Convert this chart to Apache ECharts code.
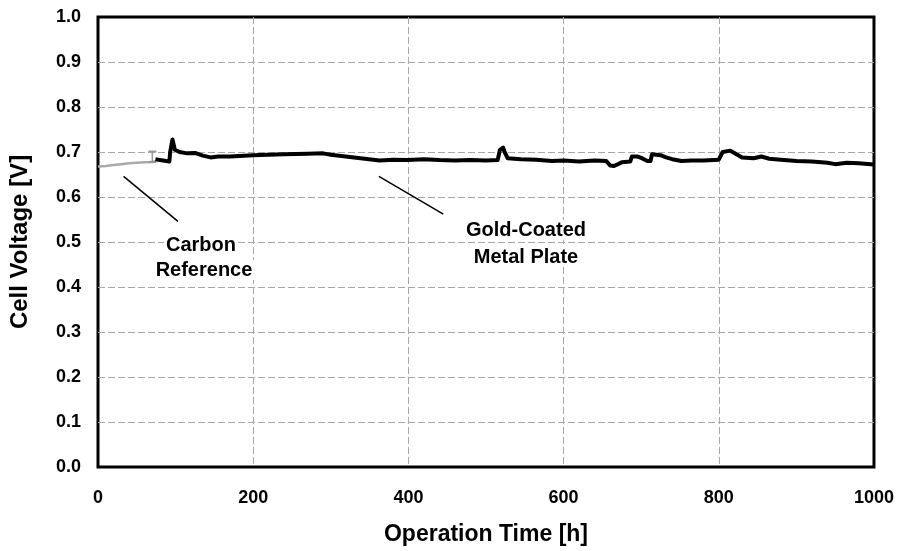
<!DOCTYPE html>
<html><head><meta charset="utf-8">
<script src="https://cdn.jsdelivr.net/npm/echarts@6/dist/echarts.min.js"></script>
<style>html,body{margin:0;padding:0;background:#fff}#c{width:897px;height:551px}</style>
</head><body><div id="c"></div>
<script>
const xTicks = [0, 200, 400, 600, 800, 1000];
const yTicks = [0.0, 0.1, 0.2, 0.3, 0.4, 0.5, 0.6, 0.7, 0.8, 0.9, 1.0];
const carbonRef = [[0,0.668],[10,0.669],[20,0.671],[30,0.673],[40,0.675],[50,0.676],[60,0.677],[70,0.678],[74,0.679]];
const carbonErr = [[70,0.701],[70,0.678]];
const goldPlate = [[74,0.684],[80,0.682],[92,0.679],[93,0.70],[96,0.728],[98,0.728],[99,0.705],[105,0.70],[115,0.697],[125,0.698],[135,0.692],[145,0.688],[155,0.690],[170,0.690],[200,0.693],[240,0.695],[270,0.696],[290,0.697],[300,0.694],[330,0.688],[363,0.681],[380,0.683],[400,0.682],[420,0.684],[440,0.682],[460,0.681],[480,0.682],[500,0.681],[515,0.682],[518,0.705],[522,0.710],[524,0.700],[528,0.686],[545,0.684],[565,0.683],[585,0.680],[600,0.681],[620,0.679],[640,0.681],[655,0.680],[660,0.670],[665,0.669],[675,0.677],[686,0.679],[688,0.690],[695,0.690],[700,0.687],[708,0.680],[712,0.680],[714,0.695],[725,0.693],[732,0.688],[740,0.684],[752,0.680],[765,0.681],[780,0.681],[800,0.683],[805,0.700],[815,0.703],[820,0.698],[830,0.688],[845,0.686],[855,0.690],[865,0.685],[880,0.683],[900,0.680],[920,0.679],[940,0.676],[950,0.673],[965,0.676],[980,0.675],[1000,0.672]];
const carbonLeader = [[33,0.646],[103,0.546]];
const goldLeader = [[362,0.646],[445,0.562]];
const carbonLabel = ['Carbon', 'Reference'];
const goldLabel = ['Gold-Coated', 'Metal Plate'];

const FONT = 'Liberation Sans, Arial, sans-serif';
const chart = echarts.init(document.getElementById('c'));
const gridSplit = {show:true, showMinLine:false, showMaxLine:false, lineStyle:{color:'#a8a8a8', width:1, type:[7,3]}};
const txt = (s, x, y) => ({type:'text', x:x, y:y, z:1, style:{text:s, font:'bold 20px '+FONT, fill:'#000', align:'center', verticalAlign:'middle', backgroundColor:'#fff', padding:[0,2]}});
chart.setOption({
  animation:false,
  grid:{left:97, right:21, top:17, bottom:82, show:true, borderColor:'#000', borderWidth:3, backgroundColor:'#fff'},
  xAxis:{type:'value', min:0, max:1000, interval:200,
    name:'Operation Time [h]', nameLocation:'middle', nameGap:56,
    nameTextStyle:{fontFamily:FONT, fontWeight:'bold', fontSize:23, color:'#000'},
    axisLine:{show:false}, axisTick:{show:false},
    axisLabel:{margin:22, fontFamily:FONT, fontWeight:'bold', fontSize:18, color:'#000', formatter:v=>String(v)},
    splitLine:gridSplit},
  yAxis:{type:'value', min:0, max:1, interval:0.1,
    name:'Cell Voltage [V]', nameLocation:'middle', nameGap:66,
    nameTextStyle:{fontFamily:FONT, fontWeight:'bold', fontSize:24, color:'#000'},
    axisLine:{show:false}, axisTick:{show:false},
    axisLabel:{margin:17, fontFamily:FONT, fontWeight:'bold', fontSize:18, color:'#000', formatter:v=>v.toFixed(1)},
    splitLine:gridSplit},
  series:[
    {type:'line', data:carbonRef, showSymbol:false, lineStyle:{color:'#aaaaaa', width:2.5}, z:3},
    {type:'line', data:carbonErr, symbol:'rect', symbolSize:[8,2], itemStyle:{color:'#999'}, lineStyle:{color:'#999', width:1.5}, z:3},
    {type:'line', data:goldPlate, showSymbol:false, lineStyle:{color:'#000', width:4, join:'round'}, z:4},
    {type:'line', data:carbonLeader, showSymbol:false, lineStyle:{color:'#000', width:1.5}, z:4},
    {type:'line', data:goldLeader, showSymbol:false, lineStyle:{color:'#000', width:1.5}, z:4}
  ],
  graphic:[
    txt(carbonLabel[0], 201, 245),
    txt(carbonLabel[1], 204, 270),
    txt(goldLabel[0], 526, 230),
    txt(goldLabel[1], 526, 257)
  ]
});
</script></body></html>
